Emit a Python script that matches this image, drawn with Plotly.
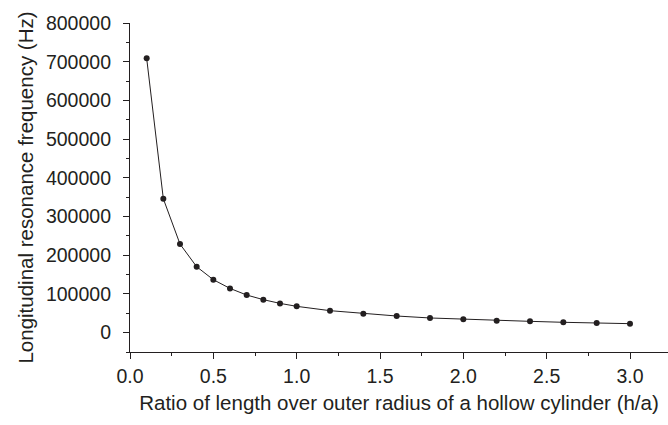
import plotly.graph_objects as go

ratio = [0.1, 0.2, 0.3, 0.4, 0.5, 0.6, 0.7, 0.8, 0.9, 1.0,
         1.2, 1.4, 1.6, 1.8, 2.0, 2.2, 2.4, 2.6, 2.8, 3.0]
freq = [709000, 345800, 228900, 170300, 136800, 114300, 97200, 85200, 75600, 68000,
        56800, 49000, 43000, 37900, 34400, 31000, 29200, 26700, 25000, 23200]

x_title = "Ratio of length over outer radius of a hollow cylinder (h/a)"
y_title = "Longitudinal resonance frequency (Hz)"

ink = "#231f20"
font = dict(family="Liberation Sans, Arial, sans-serif", size=20.5, color=ink)
tick_font = dict(family="Liberation Sans, Arial, sans-serif", size=19.5, color=ink)

fig = go.Figure()
fig.add_trace(go.Scatter(
    x=ratio, y=freq, mode="lines+markers",
    line=dict(color=ink, width=1),
    marker=dict(color=ink, size=6),
    showlegend=False, cliponaxis=False,
))

axis_common = dict(
    showgrid=False, zeroline=False, showline=True, linecolor=ink, linewidth=1.2,
    ticks="outside", ticklen=6, tickwidth=1, tickcolor=ink,
    tickfont=tick_font, title_font=font, automargin=False,
)

fig.update_xaxes(
    range=[0, 3.228], tick0=0, dtick=0.5, tickformat=".1f",
    minor=dict(ticks="outside", ticklen=3, dtick=0.25, tickcolor=ink, showgrid=False),
    title_text=x_title, title_standoff=10,
    **axis_common,
)
fig.update_yaxes(
    range=[-50000, 800000], tick0=0, dtick=100000, tickformat="d",
    minor=dict(ticks="outside", ticklen=3, dtick=50000, tickcolor=ink, showgrid=False),
    title_text=y_title, title_standoff=6, ticklabelstandoff=8,
    **axis_common,
)

fig.update_layout(
    width=668, height=425,
    margin=dict(l=130, r=0, t=23, b=73),
    plot_bgcolor="white", paper_bgcolor="white",
    font=font,
)

fig.write_html("out.html", config={"displayModeBar": False},
               post_script="document.body.style.margin='0px';")
